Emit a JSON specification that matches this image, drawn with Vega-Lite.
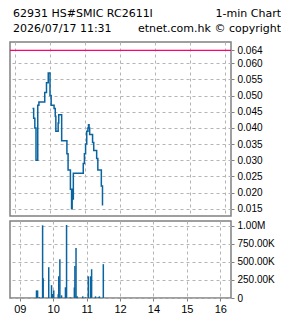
{
  "$schema": "https://vega.github.io/schema/vega-lite/v6.json",
  "padding": {"left": 8, "top": 0, "right": 0, "bottom": 0},
  "bounds": "flush",
  "spacing": 5,
  "background": "white",
  "config": {
    "view": {"stroke": "#808080", "strokeWidth": 1.5},
    "axis": {"labelFont": "Liberation Sans", "labelFontSize": 10, "labelColor": "#000000", "tickColor": "#808080", "tickSize": 3, "labelPadding": 3, "gridColor": "#b4b4b4", "gridDash": [3, 3], "gridWidth": 1, "domain": false, "title": null, "labelOverlap": false, "labelFlush": false, "labelBound": false, "tickCount": 30},
    "text": {"font": "DejaVu Sans"}
  },
  "datasets": {
    "head": [
      {"pos": 0, "line": 1, "side": "left", "text": "62931 HS#SMIC RC2611I"},
      {"pos": 1, "line": 1, "side": "right", "text": "1-min Chart"},
      {"pos": 0, "line": 2, "side": "left", "text": "2026/07/17 11:31"},
      {"pos": 1, "line": 2, "side": "right", "text": "etnet.com.hk © copyright"}
    ],
    "ref": [{"price": 0.064}],
    "price": [
      {"time": "2026-07-17T09:30:00", "price": 0.046},
      {"time": "2026-07-17T09:32:00", "price": 0.043},
      {"time": "2026-07-17T09:34:00", "price": 0.040},
      {"time": "2026-07-17T09:36:00", "price": 0.030},
      {"time": "2026-07-17T09:39:00", "price": 0.047},
      {"time": "2026-07-17T09:41:00", "price": 0.048},
      {"time": "2026-07-17T09:51:00", "price": 0.051},
      {"time": "2026-07-17T09:54:00", "price": 0.054},
      {"time": "2026-07-17T09:57:00", "price": 0.057},
      {"time": "2026-07-17T10:00:00", "price": 0.050},
      {"time": "2026-07-17T10:02:00", "price": 0.047},
      {"time": "2026-07-17T10:07:00", "price": 0.046},
      {"time": "2026-07-17T10:09:00", "price": 0.0436},
      {"time": "2026-07-17T10:10:00", "price": 0.039},
      {"time": "2026-07-17T10:14:00", "price": 0.0415},
      {"time": "2026-07-17T10:15:00", "price": 0.0441},
      {"time": "2026-07-17T10:20:00", "price": 0.036},
      {"time": "2026-07-17T10:29:00", "price": 0.032},
      {"time": "2026-07-17T10:31:00", "price": 0.027},
      {"time": "2026-07-17T10:35:00", "price": 0.021},
      {"time": "2026-07-17T10:37:00", "price": 0.015},
      {"time": "2026-07-17T10:38:00", "price": 0.021},
      {"time": "2026-07-17T10:39:00", "price": 0.018},
      {"time": "2026-07-17T10:40:00", "price": 0.026},
      {"time": "2026-07-17T10:57:00", "price": 0.029},
      {"time": "2026-07-17T10:59:00", "price": 0.032},
      {"time": "2026-07-17T11:01:00", "price": 0.035},
      {"time": "2026-07-17T11:03:00", "price": 0.039},
      {"time": "2026-07-17T11:05:00", "price": 0.040},
      {"time": "2026-07-17T11:06:00", "price": 0.041},
      {"time": "2026-07-17T11:07:00", "price": 0.040},
      {"time": "2026-07-17T11:08:00", "price": 0.038},
      {"time": "2026-07-17T11:13:00", "price": 0.0355},
      {"time": "2026-07-17T11:15:00", "price": 0.033},
      {"time": "2026-07-17T11:20:00", "price": 0.0305},
      {"time": "2026-07-17T11:22:00", "price": 0.027},
      {"time": "2026-07-17T11:28:00", "price": 0.022},
      {"time": "2026-07-17T11:30:00", "price": 0.016}
    ],
    "vol": [
      {"time": "2026-07-17T09:30:00", "volume": 105000},
      {"time": "2026-07-17T09:32:00", "volume": 105000},
      {"time": "2026-07-17T09:35:00", "volume": 10000},
      {"time": "2026-07-17T09:41:00", "volume": 1005000},
      {"time": "2026-07-17T09:42:00", "volume": 273000},
      {"time": "2026-07-17T09:52:00", "volume": 426000},
      {"time": "2026-07-17T09:57:00", "volume": 178000},
      {"time": "2026-07-17T09:59:00", "volume": 55000},
      {"time": "2026-07-17T10:01:00", "volume": 105000},
      {"time": "2026-07-17T10:09:00", "volume": 51000},
      {"time": "2026-07-17T10:10:00", "volume": 300000},
      {"time": "2026-07-17T10:12:00", "volume": 537000},
      {"time": "2026-07-17T10:15:00", "volume": 37000},
      {"time": "2026-07-17T10:22:00", "volume": 148000},
      {"time": "2026-07-17T10:24:00", "volume": 1010000},
      {"time": "2026-07-17T10:31:00", "volume": 9000},
      {"time": "2026-07-17T10:38:00", "volume": 146000},
      {"time": "2026-07-17T10:39:00", "volume": 442000},
      {"time": "2026-07-17T10:41:00", "volume": 690000},
      {"time": "2026-07-17T10:43:00", "volume": 23000},
      {"time": "2026-07-17T10:53:00", "volume": 23000},
      {"time": "2026-07-17T10:58:00", "volume": 9000},
      {"time": "2026-07-17T11:03:00", "volume": 300000},
      {"time": "2026-07-17T11:07:00", "volume": 300000},
      {"time": "2026-07-17T11:09:00", "volume": 398000},
      {"time": "2026-07-17T11:16:00", "volume": 23000},
      {"time": "2026-07-17T11:21:00", "volume": 9000},
      {"time": "2026-07-17T11:23:00", "volume": 23000},
      {"time": "2026-07-17T11:30:00", "volume": 468000}
    ]
  },
  "vconcat": [
    {
      "width": 271,
      "height": 37,
      "view": {"stroke": null},
      "data": {"name": "head"},
      "layer": [
        {
          "transform": [{"filter": "datum.side == 'left'"}],
          "mark": {"type": "text", "align": "left", "baseline": "alphabetic", "dx": 3, "fontSize": 11, "color": "#000000"},
          "encoding": {
            "x": {"field": "pos", "type": "quantitative", "scale": {"domain": [0, 1]}, "axis": null},
            "y": {"field": "line", "type": "quantitative", "scale": {"domain": [-0.13, 2.37], "reverse": true, "nice": false, "zero": false}, "axis": null},
            "text": {"field": "text"}
          }
        },
        {
          "transform": [{"filter": "datum.side == 'right'"}],
          "mark": {"type": "text", "align": "right", "baseline": "alphabetic", "fontSize": 11, "color": "#000000"},
          "encoding": {
            "x": {"field": "pos", "type": "quantitative", "scale": {"domain": [0, 1]}, "axis": null},
            "y": {"field": "line", "type": "quantitative", "scale": {"domain": [-0.13, 2.37], "reverse": true, "nice": false, "zero": false}, "axis": null},
            "text": {"field": "text"}
          }
        }
      ]
    },
    {
      "width": 221,
      "height": 174,
      "layer": [
        {
          "data": {"name": "price"},
          "mark": {"type": "line", "interpolate": "step-after", "color": "#0a64a0", "strokeWidth": 1.5},
          "encoding": {
            "x": {
              "field": "time", "type": "temporal",
              "scale": {"domain": [{"year": 2026, "month": 7, "date": 17, "hours": 8, "minutes": 51, "seconds": 26}, {"year": 2026, "month": 7, "date": 17, "hours": 15, "minutes": 10, "seconds": 17}]},
              "axis": {"labels": false, "ticks": false, "grid": true, "values": [
                {"year": 2026, "month": 7, "date": 17, "hours": 9},
                {"year": 2026, "month": 7, "date": 17, "hours": 10},
                {"year": 2026, "month": 7, "date": 17, "hours": 11},
                {"year": 2026, "month": 7, "date": 17, "hours": 12},
                {"year": 2026, "month": 7, "date": 17, "hours": 13},
                {"year": 2026, "month": 7, "date": 17, "hours": 14},
                {"year": 2026, "month": 7, "date": 17, "hours": 15}
              ]}
            },
            "y": {
              "field": "price", "type": "quantitative",
              "scale": {"domain": [0.012741, 0.066592], "nice": false, "zero": false},
              "axis": {"orient": "right", "tickCount": 30, "values": [0.015, 0.02, 0.025, 0.03, 0.035, 0.04, 0.045, 0.05, 0.055, 0.06, 0.064], "format": ".3f"}
            }
          }
        },
        {
          "data": {"name": "ref"},
          "mark": {"type": "rule", "color": "#ff0070", "strokeWidth": 1.3},
          "encoding": {
            "y": {"field": "price", "type": "quantitative"}
          }
        }
      ]
    },
    {
      "width": 221,
      "height": 77,
      "data": {"name": "vol"},
      "mark": {"type": "bar", "color": "#0a64a0", "size": 1.5},
      "encoding": {
        "x": {
          "field": "time", "type": "temporal",
          "scale": {"domain": [{"year": 2026, "month": 7, "date": 17, "hours": 8, "minutes": 51, "seconds": 26}, {"year": 2026, "month": 7, "date": 17, "hours": 15, "minutes": 10, "seconds": 17}]},
          "axis": {"grid": true, "labelFontSize": 11, "labelPadding": 2,
            "labelExpr": "timeFormat(time(datum.value) + (hours(datum.value) >= 13 ? 3600000 : 0), '%H')",
            "values": [
              {"year": 2026, "month": 7, "date": 17, "hours": 9},
              {"year": 2026, "month": 7, "date": 17, "hours": 10},
              {"year": 2026, "month": 7, "date": 17, "hours": 11},
              {"year": 2026, "month": 7, "date": 17, "hours": 12},
              {"year": 2026, "month": 7, "date": 17, "hours": 13},
              {"year": 2026, "month": 7, "date": 17, "hours": 14},
              {"year": 2026, "month": 7, "date": 17, "hours": 15}
            ]}
        },
        "y": {
          "field": "volume", "type": "quantitative",
          "scale": {"domain": [0, 1065000], "nice": false},
          "axis": {"orient": "right", "tickCount": 30, "values": [0, 250000, 500000, 750000, 1000000],
            "labelExpr": "datum.value == 0 ? '0' : datum.value >= 1000000 ? format(datum.value / 1000000, '.2f') + 'M' : format(datum.value / 1000, '.2f') + 'K'"}
        }
      }
    }
  ]
}
